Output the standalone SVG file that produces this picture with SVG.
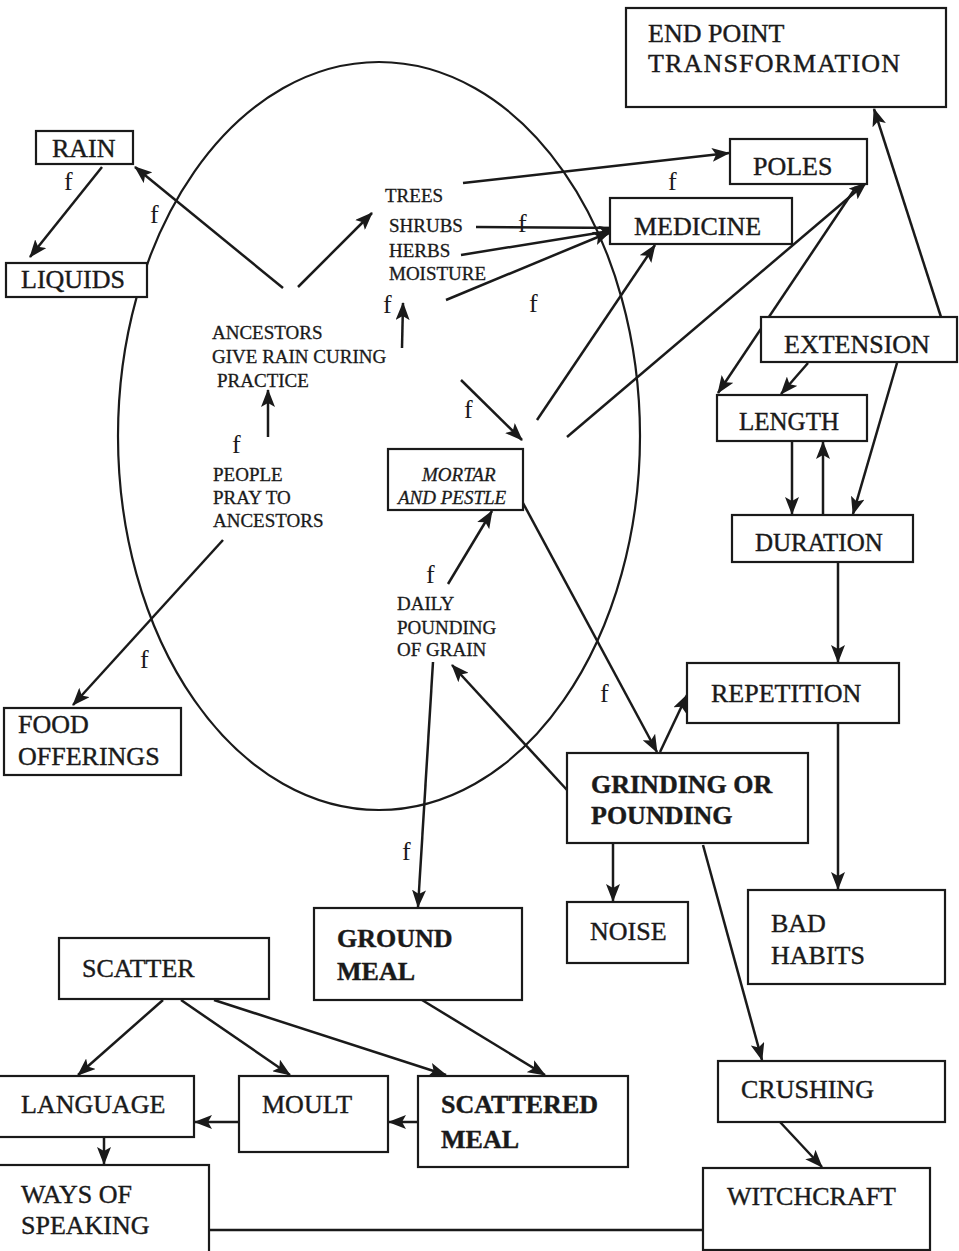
<svg xmlns="http://www.w3.org/2000/svg" width="959" height="1251" viewBox="0 0 959 1251">
  <defs>
    <marker id="arr" viewBox="0 0 18 14" refX="17" refY="7" markerWidth="18" markerHeight="14" markerUnits="userSpaceOnUse" orient="auto">
      <path d="M0,0 L18,7 L0,14 L4,7 z" fill="#1a1a1a"/>
    </marker>
    <style>
      .box { fill: #fff; stroke: #1a1a1a; stroke-width: 2.2; }
      .lbl { font-family: "Liberation Serif", "Times New Roman", serif; font-size: 26px; fill: #1a1a1a; stroke: #1a1a1a; stroke-width: 0.4; }
      .bold { font-weight: bold; }
      .sm { font-family: "Liberation Serif", "Times New Roman", serif; font-size: 19px; fill: #1a1a1a; stroke: #1a1a1a; stroke-width: 0.3; }
      .it { font-style: italic; }
      .f { font-family: "Liberation Serif", "Times New Roman", serif; font-size: 26px; fill: #1a1a1a; }
      .ln { stroke: #1a1a1a; stroke-width: 2.5; fill: none; }
      .ar { marker-end: url(#arr); }
    </style>
  </defs>
  <rect width="959" height="1251" fill="#fff"/>

  <!-- community boundary -->
  <ellipse id="boundary" cx="379" cy="436" rx="261" ry="374" fill="none" stroke="#1a1a1a" stroke-width="2.2"/>

  <!-- connectors -->
  <g id="connectors" class="ln">
    <line class="ar" x1="102" y1="167" x2="30" y2="257"/>
    <line class="ar" x1="283" y1="288" x2="135" y2="167"/>
    <line class="ar" x1="298" y1="287" x2="372" y2="213"/>
    <line class="ar" x1="463" y1="183" x2="729" y2="153"/>
    <line class="ar" x1="476" y1="227" x2="627" y2="228"/>
    <line class="ar" x1="461" y1="255" x2="616" y2="230"/>
    <line class="ar" x1="446" y1="300" x2="610" y2="232"/>
    <line class="ar" x1="402" y1="348" x2="403" y2="303"/>
    <line class="ar" x1="268" y1="437" x2="268" y2="390"/>
    <line class="ar" x1="223" y1="540" x2="73" y2="705"/>
    <line class="ar" x1="461" y1="380" x2="522" y2="440"/>
    <line class="ar" x1="537" y1="420" x2="655" y2="245"/>
    <line class="ar" x1="567" y1="437" x2="866" y2="183"/>
    <line class="ar" x1="856" y1="187" x2="718" y2="393"/>
    <line class="ar" x1="941" y1="317" x2="874" y2="109"/>
    <line class="ar" x1="808" y1="363" x2="781" y2="394"/>
    <line class="ar" x1="897" y1="363" x2="853" y2="514"/>
    <line class="ar" x1="792" y1="441" x2="792" y2="514"/>
    <line class="ar" x1="823" y1="515" x2="823" y2="442"/>
    <line class="ar" x1="838" y1="562" x2="838" y2="662"/>
    <line class="ar" x1="838" y1="723" x2="838" y2="889"/>
    <line class="ar" x1="523" y1="503" x2="657" y2="752"/>
    <line class="ar" x1="660" y1="752" x2="687" y2="695"/>
    <line class="ar" x1="448" y1="584" x2="492" y2="511"/>
    <line class="ar" x1="567" y1="790" x2="452" y2="665"/>
    <line class="ar" x1="433" y1="662" x2="418" y2="907"/>
    <line class="ar" x1="613" y1="843" x2="613" y2="901"/>
    <line class="ar" x1="703" y1="845" x2="762" y2="1060"/>
    <line class="ar" x1="780" y1="1122" x2="822" y2="1167"/>
    <line class="ar" x1="163" y1="1000" x2="78" y2="1075"/>
    <line class="ar" x1="181" y1="1000" x2="290" y2="1075"/>
    <line class="ar" x1="214" y1="1000" x2="446" y2="1075"/>
    <line class="ar" x1="422" y1="1000" x2="545" y2="1075"/>
    <line class="ar" x1="239" y1="1122" x2="195" y2="1122"/>
    <line class="ar" x1="418" y1="1122" x2="389" y2="1122"/>
    <line class="ar" x1="104" y1="1137" x2="104" y2="1164"/>
    <line x1="209" y1="1230" x2="703" y2="1230"/>
  </g>

  <!-- relation labels -->
  <g id="f-labels" class="f">
    <text x="64" y="190">f</text>
    <text x="150" y="223">f</text>
    <text x="668" y="190">f</text>
    <text x="518" y="232">f</text>
    <text x="383" y="313">f</text>
    <text x="529" y="312">f</text>
    <text x="464" y="418">f</text>
    <text x="232" y="453">f</text>
    <text x="426" y="583">f</text>
    <text x="140" y="668">f</text>
    <text x="600" y="702">f</text>
    <text x="402" y="860">f</text>
  </g>

  <!-- nodes -->
  <g id="end-point">
    <rect class="box" x="626" y="8" width="320" height="99"/>
    <text class="lbl" x="648" y="42">END POINT</text>
    <text class="lbl" x="648" y="72" textLength="252">TRANSFORMATION</text>
  </g>
  <g id="rain">
    <rect class="box" x="36" y="131" width="97" height="33"/>
    <text class="lbl" x="52" y="157">RAIN</text>
  </g>
  <g id="liquids">
    <rect class="box" x="6" y="263" width="141" height="34"/>
    <text class="lbl" x="21" y="288">LIQUIDS</text>
  </g>
  <g id="poles">
    <rect class="box" x="730" y="139" width="137" height="45"/>
    <text class="lbl" x="753" y="175">POLES</text>
  </g>
  <g id="medicine">
    <rect class="box" x="610" y="198" width="182" height="46"/>
    <text class="lbl" x="634" y="235">MEDICINE</text>
  </g>
  <g id="plants">
    <text class="sm" x="385" y="202">TREES</text>
    <text class="sm" x="389" y="232">SHRUBS</text>
    <text class="sm" x="389" y="257">HERBS</text>
    <text class="sm" x="389" y="280">MOISTURE</text>
  </g>
  <g id="ancestors">
    <text class="sm" x="212" y="339">ANCESTORS</text>
    <text class="sm" x="212" y="363">GIVE RAIN CURING</text>
    <text class="sm" x="217" y="387">PRACTICE</text>
  </g>
  <g id="people">
    <text class="sm" x="213" y="481">PEOPLE</text>
    <text class="sm" x="213" y="504">PRAY TO</text>
    <text class="sm" x="213" y="527">ANCESTORS</text>
  </g>
  <g id="mortar">
    <rect class="box" x="388" y="449" width="135" height="61"/>
    <text class="sm it" x="422" y="481">MORTAR</text>
    <text class="sm it" x="398" y="504">AND PESTLE</text>
  </g>
  <g id="daily-pounding">
    <text class="sm" x="397" y="610">DAILY</text>
    <text class="sm" x="397" y="634">POUNDING</text>
    <text class="sm" x="397" y="656">OF GRAIN</text>
  </g>
  <g id="food-offerings">
    <rect class="box" x="4" y="708" width="177" height="67"/>
    <text class="lbl" x="18" y="733">FOOD</text>
    <text class="lbl" x="18" y="765">OFFERINGS</text>
  </g>
  <g id="extension">
    <rect class="box" x="761" y="317" width="196" height="45"/>
    <text class="lbl" x="784" y="353">EXTENSION</text>
  </g>
  <g id="length">
    <rect class="box" x="717" y="395" width="150" height="46"/>
    <text class="lbl" x="739" y="430" style="font-size:25px">LENGTH</text>
  </g>
  <g id="duration">
    <rect class="box" x="732" y="515" width="181" height="47"/>
    <text class="lbl" x="755" y="551" style="font-size:25px">DURATION</text>
  </g>
  <g id="repetition">
    <rect class="box" x="687" y="663" width="212" height="60"/>
    <text class="lbl" x="711" y="702">REPETITION</text>
  </g>
  <g id="grinding">
    <rect class="box" x="567" y="753" width="241" height="90"/>
    <text class="lbl bold" x="591" y="793">GRINDING OR</text>
    <text class="lbl bold" x="591" y="824">POUNDING</text>
  </g>
  <g id="noise">
    <rect class="box" x="567" y="902" width="121" height="61"/>
    <text class="lbl" x="590" y="940">NOISE</text>
  </g>
  <g id="bad-habits">
    <rect class="box" x="748" y="890" width="197" height="94"/>
    <text class="lbl" x="771" y="932">BAD</text>
    <text class="lbl" x="771" y="964">HABITS</text>
  </g>
  <g id="ground-meal">
    <rect class="box" x="314" y="908" width="208" height="92"/>
    <text class="lbl bold" x="337" y="947">GROUND</text>
    <text class="lbl bold" x="337" y="980">MEAL</text>
  </g>
  <g id="scatter">
    <rect class="box" x="59" y="938" width="210" height="61"/>
    <text class="lbl" x="82" y="977">SCATTER</text>
  </g>
  <g id="language">
    <rect class="box" x="-2" y="1076" width="196" height="61"/>
    <text class="lbl" x="21" y="1113">LANGUAGE</text>
  </g>
  <g id="moult">
    <rect class="box" x="239" y="1076" width="149" height="76"/>
    <text class="lbl" x="262" y="1113">MOULT</text>
  </g>
  <g id="scattered-meal">
    <rect class="box" x="418" y="1076" width="210" height="91"/>
    <text class="lbl bold" x="441" y="1113">SCATTERED</text>
    <text class="lbl bold" x="441" y="1148">MEAL</text>
  </g>
  <g id="crushing">
    <rect class="box" x="718" y="1061" width="227" height="61"/>
    <text class="lbl" x="741" y="1098">CRUSHING</text>
  </g>
  <g id="witchcraft">
    <rect class="box" x="703" y="1168" width="227" height="82"/>
    <text class="lbl" x="727" y="1205">WITCHCRAFT</text>
  </g>
  <g id="ways-of-speaking">
    <rect class="box" x="-2" y="1165" width="211" height="92"/>
    <text class="lbl" x="21" y="1203">WAYS OF</text>
    <text class="lbl" x="21" y="1234">SPEAKING</text>
  </g>
</svg>
